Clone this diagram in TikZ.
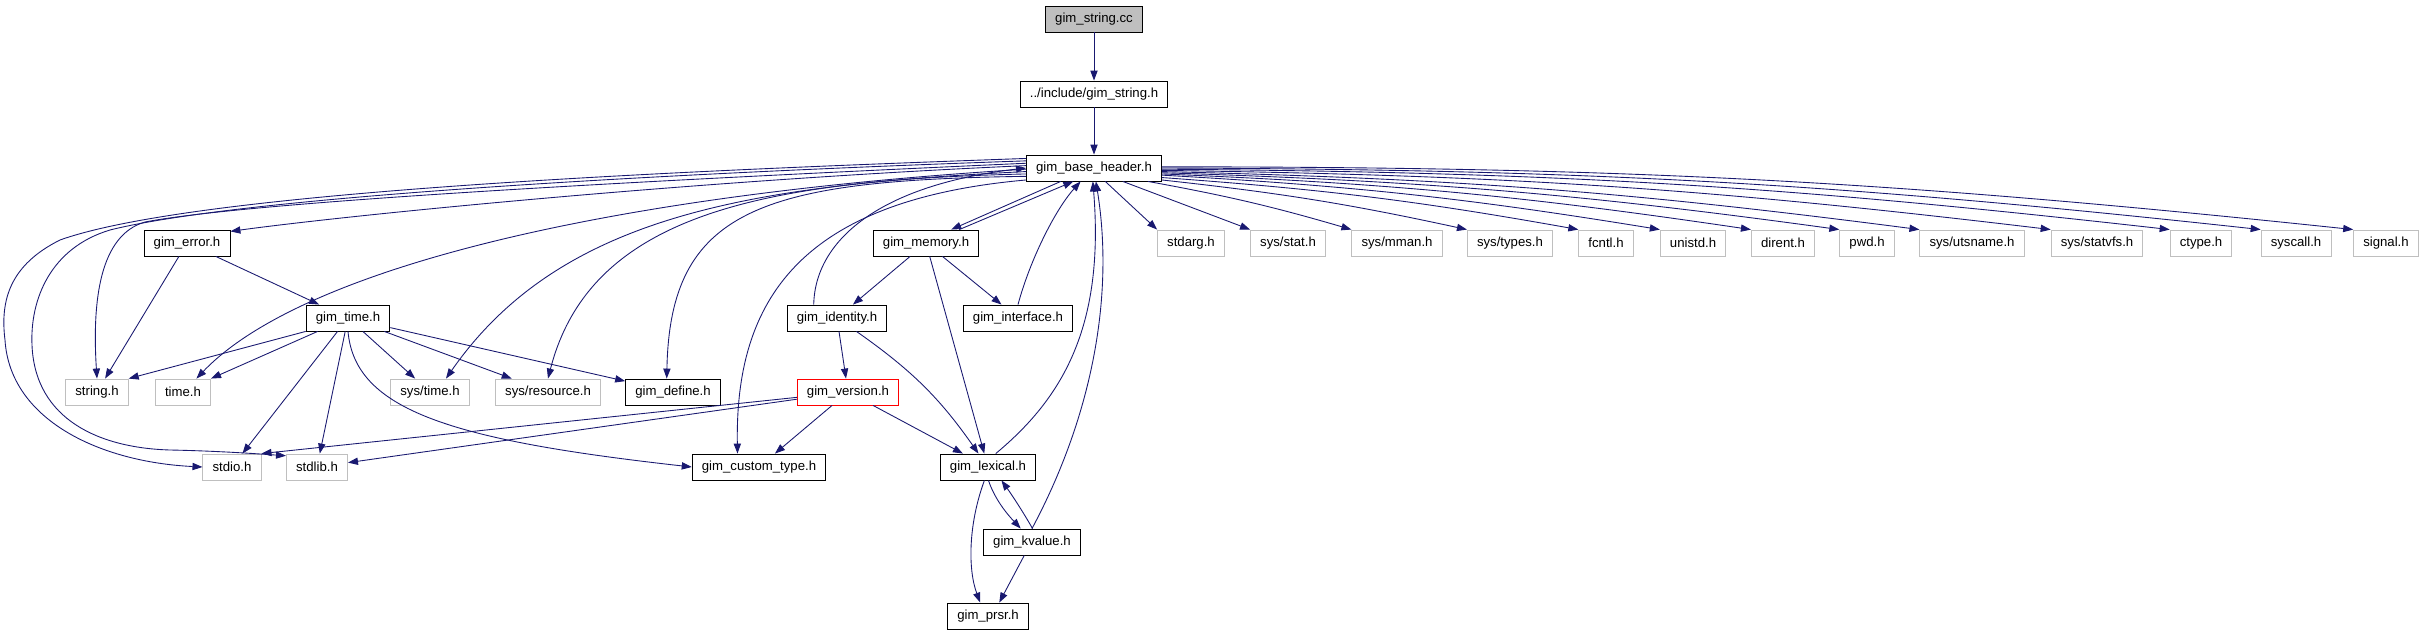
\documentclass[tikz,border=0pt]{standalone}
\usepackage{fontspec}
\setmainfont{Liberation Sans}
\usetikzlibrary{arrows.meta}
\definecolor{edgeblue}{HTML}{191970}
\definecolor{boxgray}{HTML}{BFBFBF}

\begin{document}
\begin{tikzpicture}[
        x=0.02cm, y=-0.02cm,
        file/.style={draw, rectangle, line width=0.5pt, inner xsep=5.5pt, inner ysep=0pt, minimum height=0.52cm, font=\fontsize{7.5}{9}\selectfont},
        sysfile/.style={file, draw=boxgray},
        inc/.style={-{Triangle[length=0.2cm, width=0.145cm]}, draw=edgeblue, fill=none, line width=0.5pt}
    ]
        \useasboundingbox (0, 0) rectangle (2425, 635);

        \node[file, fill=boxgray] (stringcc) at (1094, 19) {gim\_string.cc};
        \node[file] (incstring) at (1094, 94) {../include/gim\_string.h};
        \node[file] (base) at (1094, 168) {gim\_base\_header.h};
        \node[file] (error) at (187, 243) {gim\_error.h};
        \node[file] (memory) at (926, 243) {gim\_memory.h};
        \node[sysfile] (stdarg) at (1191, 243) {stdarg.h};
        \node[sysfile] (sysstat) at (1288, 243) {sys/stat.h};
        \node[sysfile] (sysmman) at (1397, 243) {sys/mman.h};
        \node[sysfile] (systypes) at (1510, 243) {sys/types.h};
        \node[sysfile] (fcntl) at (1606, 243) {fcntl.h};
        \node[sysfile] (unistd) at (1693, 243) {unistd.h};
        \node[sysfile] (dirent) at (1783, 243) {dirent.h};
        \node[sysfile] (pwd) at (1867, 243) {pwd.h};
        \node[sysfile] (sysutsname) at (1972, 243) {sys/utsname.h};
        \node[sysfile] (sysstatvfs) at (2097, 243) {sys/statvfs.h};
        \node[sysfile] (ctype) at (2201, 243) {ctype.h};
        \node[sysfile] (syscall) at (2296, 243) {syscall.h};
        \node[sysfile] (signal) at (2386, 243) {signal.h};
        \node[file] (gimtime) at (348, 318) {gim\_time.h};
        \node[file] (identity) at (837, 318) {gim\_identity.h};
        \node[file] (interface) at (1018, 318) {gim\_interface.h};
        \node[sysfile] (stringh) at (97, 392) {string.h};
        \node[sysfile] (timeh) at (183, 392) {time.h};
        \node[sysfile] (systime) at (430, 392) {sys/time.h};
        \node[sysfile] (sysresource) at (548, 392) {sys/resource.h};
        \node[file] (define) at (673, 392) {gim\_define.h};
        \node[file, draw=red] (version) at (848, 392) {gim\_version.h};
        \node[sysfile] (stdio) at (232, 467) {stdio.h};
        \node[sysfile] (stdlib) at (317, 467) {stdlib.h};
        \node[file] (custom) at (759, 467) {gim\_custom\_type.h};
        \node[file] (lexical) at (988, 467) {gim\_lexical.h};
        \node[file] (kvalue) at (1032, 542) {gim\_kvalue.h};
        \node[file] (prsr) at (988, 616) {gim\_prsr.h};

        \draw[inc] (stringcc) -- (incstring);
        \draw[inc] (incstring) -- (base);
        \draw[inc] (base.178) .. controls (700, 180) and (350, 215) .. (error.15);
        \draw[inc] (base.172) .. controls (700, 170) and (200, 190) .. (60, 240) .. controls (10, 265) and (0, 300) .. (5, 340) .. controls (10, 420) and (100, 462) .. (stdio.west);
        \draw[inc] (base.174) .. controls (700, 172) and (250, 195) .. (110, 230) .. controls (50, 248) and (30, 300) .. (32, 345) .. controls (35, 420) and (100, 448) .. (170, 450) .. controls (220, 451) and (260, 454) .. (stdlib.160);
        \draw[inc] (base.176) .. controls (700, 178) and (260, 200) .. (145, 222) .. controls (100, 235) and (92, 300) .. (stringh.north);
        \draw[inc] (base.181) .. controls (600, 195) and (300, 270) .. (timeh.45);
        \draw[inc] (base.183) .. controls (750, 185) and (560, 215) .. (systime.40);
        \draw[inc] (base.185) .. controls (760, 180) and (590, 215) .. (sysresource.north);
        \draw[inc] (base.187) .. controls (760, 180) and (670, 210) .. (define.115);
        \draw[inc] (base.190) .. controls (800, 200) and (735, 300) .. (custom.148);
        \draw[inc] (identity.150) .. controls (815, 240) and (880, 185) .. (base.180);
        \draw[inc] (base.-158) -- (memory.28);
        \draw[inc] (memory.22) -- (base.-147);
        \draw[inc] (interface.north) .. controls (1030, 260) and (1055, 210) .. (base.-135);
        \draw[inc] (lexical.60) .. controls (1060, 400) and (1105, 330) .. (base.-95);
        \draw[inc] (kvalue.north) .. controls (1090, 420) and (1115, 300) .. (base.-82);

        \draw[inc] (base.-50) -- (stdarg.north west);
        \draw[inc] (base.-25) -- (sysstat.north west);
        \draw[inc] (base.-14) to[bend left=3] (sysmman.north west);
        \draw[inc] (base.-10) to[bend left=3] (systypes.north west);
        \draw[inc] (base.-8) to[bend left=3] (fcntl.north west);
        \draw[inc] (base.-6) to[bend left=3] (unistd.north west);
        \draw[inc] (base.-5) to[bend left=3] (dirent.north west);
        \draw[inc] (base.-4) to[bend left=3] (pwd.north west);
        \draw[inc] (base.-3) to[bend left=3] (sysutsname.north west);
        \draw[inc] (base.-2) to[bend left=3] (sysstatvfs.north west);
        \draw[inc] (base.-1) to[bend left=3] (ctype.north west);
        \draw[inc] (base.0) to[bend left=3] (syscall.north west);
        \draw[inc] (base.1) to[bend left=3] (signal.north west);

        \draw[inc] (error) -- (stringh);
        \draw[inc] (error) -- (gimtime);
        \draw[inc] (gimtime.south west) -- (stringh.north east);
        \draw[inc] (gimtime) -- (timeh.north east);
        \draw[inc] (gimtime) -- (stdio);
        \draw[inc] (gimtime) -- (stdlib);
        \draw[inc] (gimtime) -- (systime);
        \draw[inc] (gimtime) -- (sysresource);
        \draw[inc] (gimtime) -- (define);
        \draw[inc] (gimtime.south) .. controls (355, 410) and (450, 440) .. (custom.west);

        \draw[inc] (memory) -- (identity);
        \draw[inc] (memory) -- (interface);
        \draw[inc] (memory) -- (lexical);
        \draw[inc] (identity) -- (version);
        \draw[inc] (identity) to[bend left=10] (lexical);
        \draw[inc] (version) -- (custom);
        \draw[inc] (version) -- (lexical);
        \draw[inc] (version) -- (stdio.north east);
        \draw[inc] (version) -- (stdlib);
        \draw[inc] (lexical.-88) .. controls (995, 500) and (1008, 515) .. (kvalue.130);
        \draw[inc] (kvalue.88) .. controls (1025, 515) and (1012, 495) .. (lexical.-45);
        \draw[inc] (lexical.-105) .. controls (968, 525) and (968, 570) .. (prsr.120);
        \draw[inc] (kvalue.-120) -- (prsr.50);
    \end{tikzpicture}
\end{document}
